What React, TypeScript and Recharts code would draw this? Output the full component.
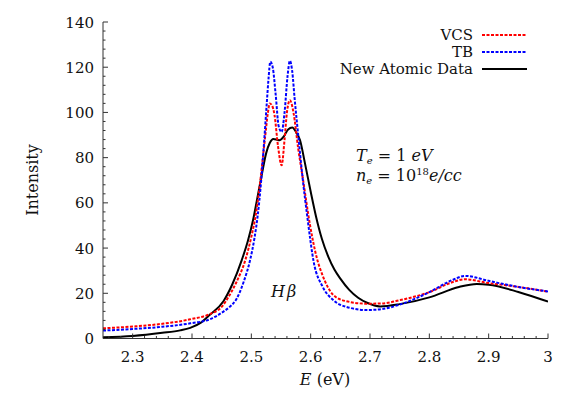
import { Line, LineChart, XAxis, YAxis } from 'recharts';

const CHART_W = 581;
const CHART_H = 395;

// axis ticks
const X_MAJOR = [2.3, 2.4, 2.5, 2.6, 2.7, 2.8, 2.9, 3.0];
const X_MINOR = [
  2.26, 2.28, 2.32, 2.34, 2.36, 2.38, 2.42, 2.44, 2.46, 2.48, 2.52, 2.54, 2.56, 2.58, 2.62,
  2.64, 2.66, 2.68, 2.72, 2.74, 2.76, 2.78, 2.82, 2.84, 2.86, 2.88, 2.92, 2.94, 2.96, 2.98,
];
const X_LABELS = ['2.3', '2.4', '2.5', '2.6', '2.7', '2.8', '2.9', '3'];
const Y_MAJOR = [0, 20, 40, 60, 80, 100, 120, 140];
const Y_MINOR = [
  4, 8, 12, 16, 24, 28, 32, 36, 44, 48, 52, 56, 64, 68, 72, 76, 84, 88, 92, 96, 104, 108, 112,
  116, 124, 128, 132, 136,
];

// VCS (red dashed)
const vcsEnergy = [
  2.25, 2.3, 2.35, 2.397, 2.43, 2.45, 2.464, 2.475, 2.49, 2.5, 2.507, 2.513, 2.519, 2.524, 2.528,
  2.531, 2.535, 2.539, 2.545, 2.551, 2.556, 2.56, 2.565, 2.571, 2.579, 2.587, 2.599, 2.61, 2.62,
  2.638, 2.66, 2.695, 2.72, 2.751, 2.8, 2.84, 2.86, 2.9, 2.948, 3.0,
];
const vcsIntensity = [
  4.5, 5.3, 6.5, 8.5, 10.8, 14, 19.5, 25, 34.8, 45, 54, 65, 79, 91, 100, 104, 103, 99, 85, 76.6,
  88, 100, 105.4, 100, 84, 70.5, 50, 36, 28, 19.3, 16.5, 15.4, 15.5, 17, 20.5, 25, 26.2, 24.5,
  22.9, 20.7,
];

// TB (blue dashed)
const tbEnergy = [
  2.25, 2.3, 2.35, 2.397, 2.43, 2.453, 2.464, 2.475, 2.487, 2.498, 2.505, 2.511, 2.516, 2.521,
  2.526, 2.529, 2.532, 2.536, 2.541, 2.546, 2.551, 2.556, 2.561, 2.565, 2.569, 2.573, 2.579, 2.586,
  2.595, 2.605, 2.62, 2.638, 2.66, 2.695, 2.72, 2.75, 2.8, 2.84, 2.86, 2.9, 2.948, 3.0,
];
const tbIntensity = [
  3.5, 4.2, 5.2, 6.7, 8.5, 11.9, 14.1, 17.5, 25, 34.8, 44, 55, 68, 85, 104, 115, 122.4, 120, 108,
  94, 91.4, 100, 116, 122.8, 118, 106, 90, 72, 52.5, 34, 23, 17, 14, 12.6, 13, 15, 20.5, 26, 27.7,
  25.5, 22.9, 20.8,
];

// New Atomic Data (black solid)
const newEnergy = [
  2.25, 2.3, 2.35, 2.38, 2.397, 2.415, 2.43, 2.453, 2.468, 2.484, 2.494, 2.503, 2.51, 2.518, 2.525,
  2.531, 2.537, 2.547, 2.555, 2.562, 2.569, 2.576, 2.582, 2.59, 2.6, 2.609, 2.619, 2.63, 2.64, 2.65,
  2.665, 2.68, 2.695, 2.717, 2.75, 2.8, 2.85, 2.88, 2.9, 2.95, 3.0,
];
const newIntensity = [
  0.5, 1.1, 2.5, 3.6, 4.7, 7, 10.5, 16.5, 24, 34.8, 43, 52.5, 62, 73, 82, 86.5, 88.3, 87.7, 89.5,
  92.5, 93.3, 91, 87.8, 78, 65, 54, 44, 36, 30.5, 26.5, 21.5, 18, 15.8, 14.2, 15.2, 18.2,
  22.8, 24.1, 23.8, 20.6, 16.3,
];

const toPoints = (energy: number[], intensity: number[]) =>
  energy.map((e, i) => ({ e, v: intensity[i] }));

const vcsData = toPoints(vcsEnergy, vcsIntensity);
const tbData = toPoints(tbEnergy, tbIntensity);
const newData = toPoints(newEnergy, newIntensity);

const FONT = 'DejaVu Serif';
const AXIS_COLOR = '#333';
const MAJOR_LEN = 5;
const MINOR_LEN = 2.5;

const isXMajor = (v: number) => X_MAJOR.some((m) => Math.abs(m - v) < 1e-6);
const isYMajor = (v: number) => Y_MAJOR.includes(v);

const BottomTick = (props: any) => {
  const { x, y, payload } = props;
  const major = isXMajor(payload.value);
  const idx = X_MAJOR.findIndex((m) => Math.abs(m - payload.value) < 1e-6);
  return (
    <g>
      <line x1={x} x2={x} y1={y} y2={y - (major ? MAJOR_LEN : MINOR_LEN)} stroke={AXIS_COLOR} />
      {major ? (
        <text x={x} y={y + 23} textAnchor="middle" fontFamily={FONT} fontSize={15} fill="#111">
          {X_LABELS[idx]}
        </text>
      ) : null}
    </g>
  );
};

const TopTick = (props: any) => {
  const { x, y, payload } = props;
  const len = isXMajor(payload.value) ? MAJOR_LEN : MINOR_LEN;
  return <line x1={x} x2={x} y1={y} y2={y + len} stroke={AXIS_COLOR} />;
};

const LeftTick = (props: any) => {
  const { x, y, payload } = props;
  const major = isYMajor(payload.value);
  return (
    <g>
      <line x1={x} x2={x + (major ? MAJOR_LEN : MINOR_LEN)} y1={y} y2={y} stroke={AXIS_COLOR} />
      {major ? (
        <text x={x - 9} y={y + 5.5} textAnchor="end" fontFamily={FONT} fontSize={15} fill="#111">
          {payload.value}
        </text>
      ) : null}
    </g>
  );
};

const RightTick = (props: any) => {
  const { x, y, payload } = props;
  const len = isYMajor(payload.value) ? MAJOR_LEN : MINOR_LEN;
  return <line x1={x} x2={x - len} y1={y} y2={y} stroke={AXIS_COLOR} />;
};

const LEGEND = [
  { name: 'VCS', color: '#ff0000', dash: '3 1.5', y: 35 },
  { name: 'TB', color: '#0000ff', dash: '3 1.5', y: 52 },
  { name: 'New Atomic Data', color: '#000000', dash: undefined, y: 69 },
];

export default function App() {
  const xTicks = [...X_MAJOR, ...X_MINOR];
  const yTicks = [...Y_MAJOR, ...Y_MINOR];
  const xDomain = [2.25, 3];
  const yDomain = [0, 140];

  return (
    <div style={{ position: 'absolute', left: 0, top: 0, width: CHART_W, height: CHART_H, background: '#fff' }}>
      <LineChart width={CHART_W} height={CHART_H} margin={{ top: 22, right: 33, bottom: 0, left: 0 }}>
        <XAxis
          xAxisId="b"
          type="number"
          dataKey="e"
          domain={xDomain}
          ticks={xTicks}
          allowDataOverflow
          height={56.5}
          tickSize={0}
          tickMargin={0}
          tick={BottomTick}
          stroke={AXIS_COLOR}
          interval={0}
        />
        <XAxis
          xAxisId="t"
          orientation="top"
          type="number"
          dataKey="e"
          domain={xDomain}
          ticks={xTicks}
          allowDataOverflow
          height={0}
          tickSize={0}
          tickMargin={0}
          tick={TopTick}
          stroke={AXIS_COLOR}
          interval={0}
        />
        <YAxis
          yAxisId="l"
          type="number"
          domain={yDomain}
          ticks={yTicks}
          allowDataOverflow
          width={103}
          tickSize={0}
          tickMargin={0}
          tick={LeftTick}
          stroke={AXIS_COLOR}
          interval={0}
        />
        <YAxis
          yAxisId="r"
          orientation="right"
          type="number"
          domain={yDomain}
          ticks={yTicks}
          allowDataOverflow
          width={0}
          tickSize={0}
          tickMargin={0}
          tick={RightTick}
          stroke={AXIS_COLOR}
          interval={0}
        />
        <Line
          xAxisId="b"
          yAxisId="l"
          data={newData}
          dataKey="v"
          type="monotone"
          stroke="#000"
          strokeWidth={2}
          dot={false}
          isAnimationActive={false}
        />
        <Line
          xAxisId="b"
          yAxisId="l"
          data={vcsData}
          dataKey="v"
          type="monotone"
          stroke="#ff0000"
          strokeWidth={2}
          strokeDasharray="3 1.5"
          dot={false}
          isAnimationActive={false}
        />
        <Line
          xAxisId="b"
          yAxisId="l"
          data={tbData}
          dataKey="v"
          type="monotone"
          stroke="#0000ff"
          strokeWidth={2}
          strokeDasharray="3 1.5"
          dot={false}
          isAnimationActive={false}
        />
      </LineChart>

      <svg
        width={CHART_W}
        height={CHART_H}
        style={{ position: 'absolute', left: 0, top: 0, pointerEvents: 'none' }}
        fontFamily={FONT}
        fill="#111"
      >
        {LEGEND.map((item) => (
          <g key={item.name}>
            <text x={473} y={item.y + 5} textAnchor="end" fontSize={15}>
              {item.name}
            </text>
            <line
              x1={482}
              x2={527}
              y1={item.y}
              y2={item.y}
              stroke={item.color}
              strokeWidth={2}
              strokeDasharray={item.dash}
            />
          </g>
        ))}

        <text x={356} y={161} fontSize={16}>
          <tspan fontStyle="italic">T</tspan>
          <tspan fontStyle="italic" fontSize={10} dy={3}>e</tspan>
          <tspan dy={-3}> = 1 </tspan>
          <tspan fontStyle="italic">eV</tspan>
        </text>
        <text x={356} y={181} fontSize={16}>
          <tspan fontStyle="italic">n</tspan>
          <tspan fontStyle="italic" fontSize={10} dy={3}>e</tspan>
          <tspan dy={-3}> = 10</tspan>
          <tspan fontSize={10} dy={-6}>18</tspan>
          <tspan fontStyle="italic" dy={6}>e/cc</tspan>
        </text>

        <text x={271} y={297} fontStyle="italic" fontSize={16}>
          H<tspan dx={2}>β</tspan>
        </text>

        <text x={325} y={385} textAnchor="middle" fontSize={16}>
          <tspan fontStyle="italic">E</tspan> (eV)
        </text>
        <text x={38} y={180} textAnchor="middle" transform="rotate(-90 38 180)" fontSize={16}>
          Intensity
        </text>
      </svg>
    </div>
  );
}
